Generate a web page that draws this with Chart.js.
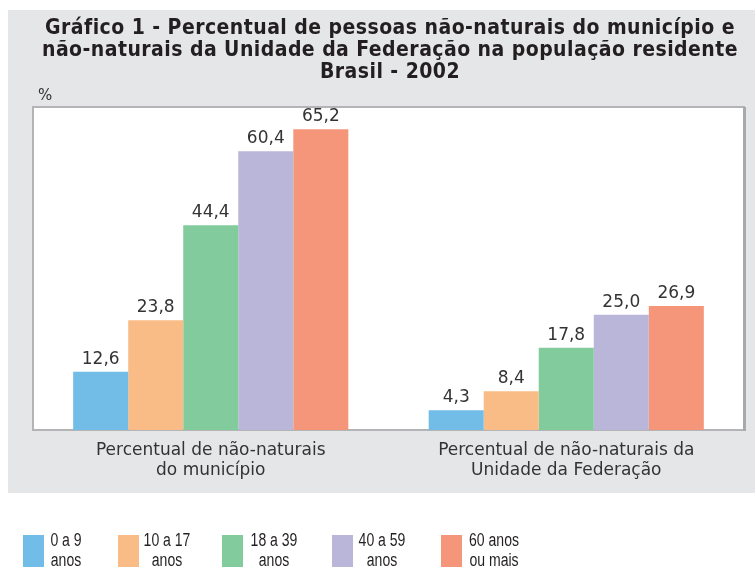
<!DOCTYPE html>
<html>
<head>
<meta charset="utf-8">
<script src="https://cdn.jsdelivr.net/npm/chart.js@4/dist/chart.umd.min.js"></script>
<style>
  body { margin: 0; background: #fff; }
  #wrap { position: relative; width: 755px; height: 567px; overflow: hidden; }
  #title {
    position: absolute; left: 20px; width: 740px; top: 16px;
    text-align: center; font-family: "DejaVu Sans Condensed", sans-serif;
    font-weight: bold; font-size: 21px; line-height: 22px; color: #231f20; letter-spacing: 0.45px;
  }
  #pct { position: absolute; left: 38px; top: 86px; font-family: "DejaVu Sans", sans-serif; font-size: 15px; color: #333; }
  .leg-box { position: absolute; width: 21px; height: 32px; top: 535px; }
  .leg-txt {
    position: absolute; top: 530px; width: 90px; text-align: center;
    font-family: "Liberation Sans", sans-serif; transform: scaleX(0.78); transform-origin: 50% 0;
    font-size: 18px; line-height: 20px; color: #231f20;
  }
</style>
</head>
<body>
<div id="wrap">
  <canvas id="mycanvas" width="755" height="567"></canvas>
  <div id="title">Gráfico 1 - Percentual de pessoas não-naturais do município e<br>não-naturais da Unidade da Federação na população residente<br>Brasil - 2002</div>
  <div id="pct">%</div>
  <div id="legend"></div>
</div>
<script>
var categories = [
  ['Percentual de não-naturais', 'do município'],
  ['Percentual de não-naturais da', 'Unidade da Federação']
];
var seriesNames = ['0 a 9 anos', '10 a 17 anos', '18 a 39 anos', '40 a 59 anos', '60 anos ou mais'];
var legendLines = [['0 a 9', 'anos'], ['10 a 17', 'anos'], ['18 a 39', 'anos'], ['40 a 59', 'anos'], ['60 anos', 'ou mais']];
var age0to9 = [12.6, 4.3];
var age10to17 = [23.8, 8.4];
var age18to39 = [44.4, 17.8];
var age40to59 = [60.4, 25.0];
var age60plus = [65.2, 26.9];
var colors = ['#72bde8', '#f9bc86', '#82cb9c', '#bab6da', '#f5967a'];

// legend positions (box left, text center)
var legBoxX = [23, 118, 222, 332, 441];
var legTxtX = [66, 167, 274, 382, 494];
var legHtml = '';
for (var i = 0; i < legendLines.length; i++) {
  legHtml += '<div class="leg-box" style="left:' + legBoxX[i] + 'px;background:' + colors[i] + '"></div>';
  legHtml += '<div class="leg-txt" style="left:' + (legTxtX[i] - 45) + 'px">' + legendLines[i][0] + '<br>' + legendLines[i][1] + '</div>';
}
document.getElementById('legend').innerHTML = legHtml;

var allSeries = [age0to9, age10to17, age18to39, age40to59, age60plus];
var datasets = [];
for (var j = 0; j < allSeries.length; j++) {
  datasets.push({
    label: seriesNames[j],
    data: allSeries[j],
    backgroundColor: colors[j],
    borderWidth: 0,
    categoryPercentage: 0.774,
    barPercentage: 1
  });
}

var backdrop = {
  id: 'backdrop',
  beforeDraw: function(chart) {
    var c = chart.ctx, a = chart.chartArea;
    c.save();
    c.fillStyle = '#e5e6e8';
    c.fillRect(8, 10, 747, 483);
    c.fillStyle = '#ffffff';
    c.fillRect(a.left, a.top, a.right - a.left, a.bottom - a.top);
    c.strokeStyle = '#b4b4b6';
    c.lineWidth = 2;
    c.strokeRect(a.left, a.top, a.right - a.left, a.bottom - a.top);
    // slightly darker right edge
    c.strokeStyle = '#a9a9ab';
    c.lineWidth = 3;
    c.beginPath();
    c.moveTo(a.right + 0.5, a.top);
    c.lineTo(a.right + 0.5, a.bottom + 1);
    c.stroke();
    c.restore();
  },
  afterDatasetsDraw: function(chart) {
    var c = chart.ctx;
    c.save();
    c.font = '17px "DejaVu Sans"';
    c.fillStyle = '#333';
    c.textAlign = 'center';
    c.textBaseline = 'bottom';
    chart.data.datasets.forEach(function(ds, k) {
      chart.getDatasetMeta(k).data.forEach(function(bar, n) {
        c.fillText(ds.data[n].toFixed(1).replace('.', ','), bar.x, bar.y - 4);
      });
    });
    c.restore();
  }
};

var ctx = document.getElementById('mycanvas');
var chart = new Chart(ctx, {
  type: 'bar',
  data: { labels: categories, datasets: datasets },
  options: {
    responsive: false,
    animation: false,
    devicePixelRatio: 1,
    layout: { padding: { left: 33, right: 11, top: 107, bottom: 74 } },
    plugins: { legend: { display: false }, title: { display: false }, tooltip: { enabled: false } },
    scales: {
      y: { display: false, min: 0, max: 70 },
      x: {
        grid: { display: false, drawTicks: false },
        border: { display: false },
        ticks: { color: '#333', font: { family: 'DejaVu Sans', size: 17, lineHeight: 1.15 }, padding: 11 },
        afterFit: function(s) { s.height = 63; }
      }
    }
  },
  plugins: [backdrop]
});
</script>
</body>
</html>
